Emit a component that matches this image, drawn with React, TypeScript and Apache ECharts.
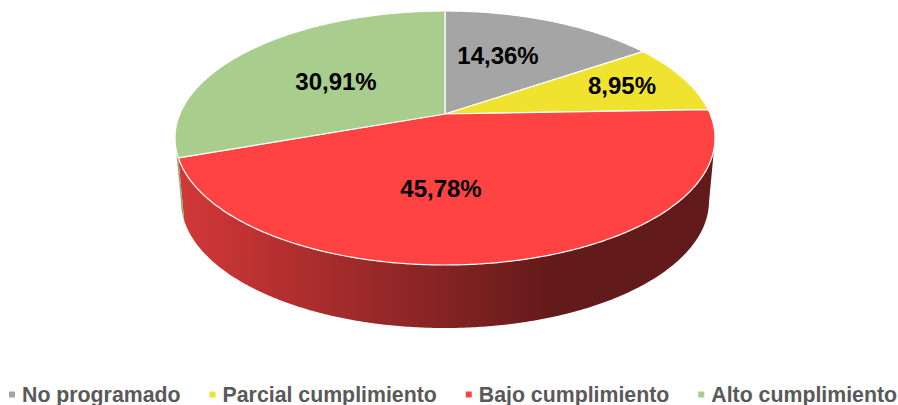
import React, { useEffect, useRef } from "react";
import * as echarts from "echarts";

const categories = ["No programado", "Parcial cumplimiento", "Bajo cumplimiento", "Alto cumplimiento"];
const sliceValues = [14.36, 8.95, 45.78, 30.91];
const sliceColors = ["#A5A5A5", "#EFE330", "#FF4343", "#A9CD8C"];

const labelAnchors = [[498, 55], [622, 85], [441, 188], [336, 81]];
const TOP = { cx: 445, cy: 138, rx: 270, ry: 127 };
const BOTTOM = { cx: 445, cy: 201, rx: 264, ry: 127 };
const APEX_Y = 114;

const a = (APEX_Y - TOP.cy) / TOP.ry;
const rad = Math.PI / 180;

function skew(deg: number) {
  return deg + 4 * Math.min(1, deg / 50) * Math.min(1, (360 - deg) / 270);
}

function unit(deg: number) {
  const th = skew(deg) * rad;
  const u = Math.sin(th);
  const v = -Math.cos(th);
  const d = 1 + a * v;
  return [(u * Math.sqrt(1 - a * a)) / d, (v + a) / d];
}

function onEllipse(e: typeof TOP, p: number[]) {
  return [e.cx + e.rx * p[0], e.cy + e.ry * p[1]];
}

function shade(hex: string, k: number) {
  const n = parseInt(hex.slice(1), 16);
  const c = [(n >> 16) & 255, (n >> 8) & 255, n & 255].map((x) => Math.round(x * k));
  return `rgb(${c.join(",")})`;
}

function renderSlice(index: number) {
  return (_params: any, api: any) => {
    const value = api.value(0);
    const total = sliceValues.reduce((s, v) => s + v, 0);
    const before = sliceValues.slice(0, index).reduce((s, v) => s + v, 0);
    const start = (before / total) * 360;
    const end = start + (value / total) * 360;
    const steps = Math.max(8, Math.ceil((end - start) * 2));
    const arc: number[][] = [];
    for (let i = 0; i <= steps; i++) arc.push(unit(start + ((end - start) * i) / steps));

    const children: any[] = [];
    const front = arc.filter((p) => p[1] >= 0);
    if (front.length > 1) {
      const upper = front.map((p) => onEllipse(TOP, p));
      const lower = front.map((p) => onEllipse(BOTTOM, p)).reverse();
      const color = sliceColors[index];
      children.push({
        type: "polygon",
        shape: { points: upper.concat(lower) },
        style: {
          fill: new echarts.graphic.LinearGradient(
            175, 0, 555, 0,
            [
              { offset: 0, color: shade(color, 0.83) },
              { offset: 1, color: shade(color, 0.39) },
            ],
            true
          ),
        },
      });
    }
    children.push({
      type: "polygon",
      shape: { points: [[TOP.cx, APEX_Y], ...arc.map((p) => onEllipse(TOP, p))] },
      style: { fill: sliceColors[index], stroke: "#FFFFFF", lineWidth: 1.2, lineJoin: "round" },
    });
    const [lx, ly] = labelAnchors[index];
    children.push({
      type: "text",
      x: lx,
      y: ly,
      z2: 10,
      style: {
        text: value.toFixed(2).replace(".", ",") + "%",
        fill: "#000000",
        font: 'bold 24px "Liberation Sans", Arial, sans-serif',
        align: "center",
        verticalAlign: "middle",
      },
    });
    return { type: "group", children };
  };
}

export default function App() {
  const ref = useRef<HTMLDivElement>(null);
  useEffect(() => {
    const chart = echarts.init(ref.current!, undefined, { renderer: "svg" });
    chart.setOption({
      animation: false,
      backgroundColor: "#FFFFFF",
      legend: {
        data: categories,
        left: 9,
        top: 384,
        width: 895,
        orient: "horizontal",
        icon: "rect",
        itemWidth: 6,
        itemHeight: 6,
        itemGap: 29,
        padding: 0,
        textStyle: {
          color: "#595959",
          fontFamily: '"Liberation Sans", Arial, sans-serif',
          fontWeight: "bold",
          fontSize: 21.3,
          padding: [0, 0, 0, 2],
        },
      },
      series: categories.map((name, i) => ({
        type: "custom",
        name,
        coordinateSystem: "none",
        itemStyle: { color: sliceColors[i] },
        data: [[sliceValues[i]]],
        renderItem: renderSlice(i),
      })),
    });
    return () => chart.dispose();
  }, []);
  return <div ref={ref} style={{ position: "fixed", left: 0, top: 0, width: 898, height: 405 }} />;
}
